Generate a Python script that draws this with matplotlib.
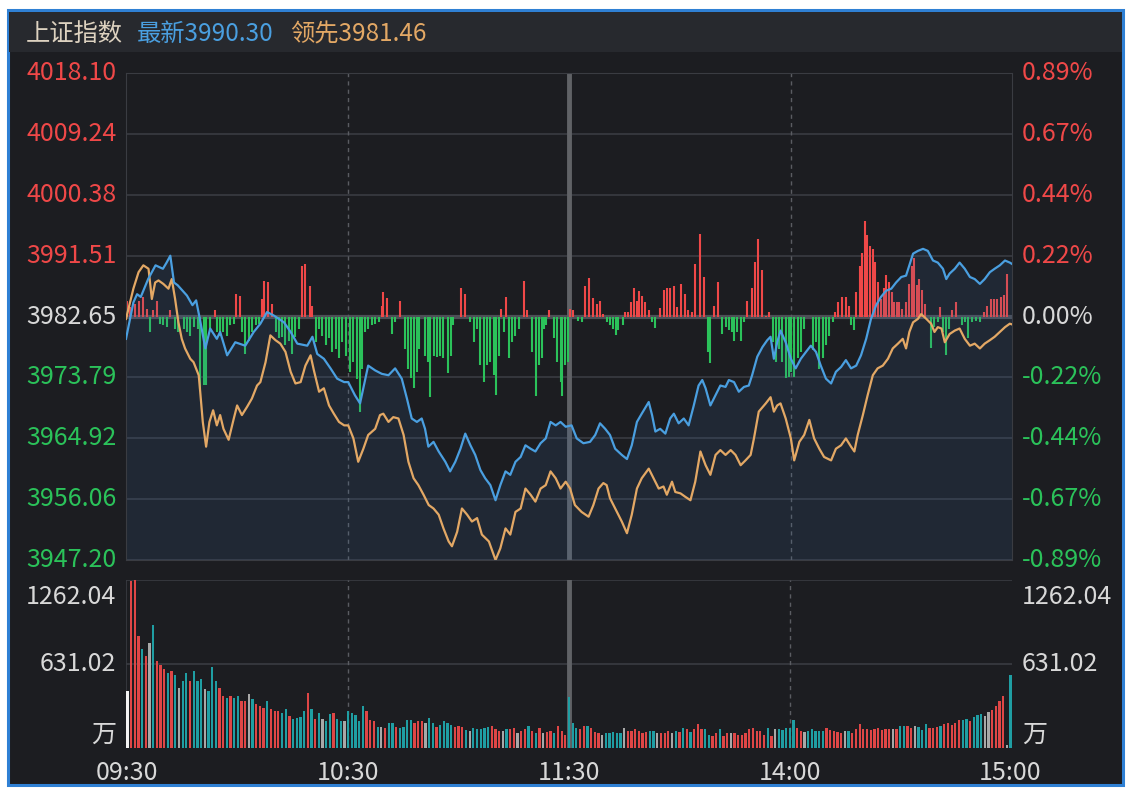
import numpy as np
import matplotlib.pyplot as plt
from matplotlib.patches import Rectangle
from matplotlib.transforms import blended_transform_factory, offset_copy

plt.rcParams['font.family'] = ['Noto Sans CJK SC', 'DejaVu Sans']

# ---- data (minutes from 09:30, lunch break removed) ----
pre_close = 3982.65
levels = [4018.10, 4009.24, 4000.38, 3991.51, 3982.65, 3973.79, 3964.92, 3956.06, 3947.20]
pct_labels = ['0.89%', '0.67%', '0.44%', '0.22%', '0.00%', '-0.22%', '-0.44%', '-0.67%', '-0.89%']
vol_levels = [1262.04, 631.02]
time_ticks = [0, 60, 120, 180, 240]
time_labels = ['09:30', '10:30', '11:30', '14:00', '15:00']

# index (blue)
blue_t = [0, 2, 3, 4, 6, 8, 10, 11, 12, 13, 14, 16.5, 18, 19, 20, 21.5, 22.8, 24.6, 25.5, 27.4,
          29.6, 32.3, 34.6, 36.4, 38.2, 40.0, 42.8, 44.6, 46.4, 49.1, 50.5, 51.8, 53.6, 55.4, 57.2, 59.1,
          60.2, 62.0, 63.4, 65.6, 67.5, 69.3, 71.1, 72.9, 74.7, 76.1, 77.4, 78.8, 80.1, 81.0, 81.9, 83.3,
          84.7, 86.5, 87.8, 89.2, 90.6, 91.9, 93.3, 94.6, 96.0, 97.3, 98.7, 100.1, 101.4, 102.8, 104.1,
          105.5, 106.9, 108.2, 109.6, 110.9, 112.3, 113.7, 115.0, 116.4, 117.7, 119.1,
          120.7, 122.1, 123.9, 125.7, 127.1, 128.4, 129.8, 131.1, 132.5, 134.3, 135.7, 137.0, 138.4,
          139.7, 141.6, 142.5, 143.4, 144.7, 146.1, 147.4, 148.4, 149.7, 151.1, 152.4, 153.8, 155.1,
          156.1, 157.0, 158.3, 159.7, 161.0, 162.4, 163.3, 164.7, 166.0, 167.4, 168.7, 169.6, 171.0,
          172.4, 173.7, 174.6, 175.5, 176.4, 177.3, 178.7, 180.1,
          181.4, 182.8, 184.2, 185.5, 186.9, 188.2, 189.6, 191.0, 192.3, 193.7, 195.0, 196.4, 197.8,
          199.1, 200.5, 201.8, 203.2, 204.5, 205.9, 207.3, 208.6, 210.0, 211.3, 212.2, 213.2, 214.5,
          215.9, 217.2, 218.6, 219.9, 221.3, 222.2, 223.1, 224.5, 225.8, 227.2, 228.6, 229.9, 231.3,
          232.6, 234.0, 235.3, 236.7, 238.1, 239.4, 240]
blue_v = [3979.4, 3984.7, 3985.9, 3985.5, 3988.1, 3990.1, 3989.6, 3990.5, 3991.5, 3987.6, 3987.2,
          3985.7, 3984.3, 3985.0, 3982.3, 3978.0, 3980.9, 3979.4, 3980.4, 3977.0, 3978.9, 3978.4,
          3980.4, 3981.6, 3983.3, 3982.8, 3981.8, 3980.4, 3978.7, 3978.4, 3979.7, 3977.2, 3976.5,
          3975.1, 3973.6, 3973.1,
          3973.1, 3971.2, 3970.0, 3975.5, 3974.8, 3974.3, 3974.1, 3975.1, 3973.6, 3970.7, 3967.8,
          3967.3, 3967.8, 3966.3, 3963.7, 3964.4, 3963.0, 3961.5, 3960.1, 3961.5, 3963.4, 3965.6,
          3963.9, 3962.5, 3960.3, 3959.1, 3958.1, 3955.9, 3958.1, 3960.1, 3959.6, 3961.5, 3962.2,
          3963.9, 3963.4, 3963.0, 3964.2, 3964.9, 3967.3, 3966.8, 3967.3, 3966.6,
          3966.8, 3964.9, 3964.2, 3964.4, 3965.4, 3967.1, 3966.3, 3965.4, 3963.4, 3962.5, 3961.9,
          3963.9, 3967.3, 3968.5, 3970.2, 3968.3, 3965.9, 3966.3, 3965.6, 3967.8, 3968.5, 3967.1,
          3967.8, 3966.8, 3969.7, 3972.6, 3973.4, 3972.2, 3969.7, 3971.2, 3972.6, 3972.4, 3973.4,
          3973.1, 3971.7, 3972.4, 3972.6, 3974.1, 3976.8, 3978.2, 3979.2, 3979.7, 3976.5, 3978.9,
          3980.6, 3978.9, 3976.5,
          3975.1, 3976.5, 3977.5, 3978.4, 3977.5, 3975.5, 3973.6, 3972.9, 3974.6, 3975.3, 3976.3,
          3975.1, 3975.5, 3977.0, 3979.4, 3982.3, 3984.3, 3985.5, 3986.4, 3986.7, 3987.6, 3988.4,
          3988.6, 3990.1, 3991.8, 3992.2, 3992.5, 3992.2, 3990.8, 3990.5, 3989.6, 3988.1, 3988.9,
          3989.6, 3990.5, 3989.6, 3988.4, 3988.1, 3987.4, 3988.1, 3989.1, 3989.6, 3990.1, 3990.8,
          3990.5, 3990.3]

# leading index (orange)
lead_t = [0, 2, 3.4, 4.7, 6.1, 7.0, 7.9, 8.8, 10.1, 11.5, 12.4, 13.3, 14.2, 15.1, 16.0, 17.4, 18.3,
          19.7, 20.1, 20.8, 21.7, 22.6, 23.6, 24.6, 25.5, 26.4, 27.8, 29.2, 30.1, 31.4, 32.8, 34.1,
          35.5, 36.4, 37.8, 39.1, 40.5, 41.8, 43.2, 44.6, 45.9, 47.3, 48.6, 50.0, 50.9, 52.3, 53.6,
          55.0, 56.3, 57.7, 59.1,
          60.2, 61.6, 62.9, 64.3, 65.6, 67.5, 68.8, 69.7, 71.1, 72.4, 73.8, 75.2, 76.5, 77.9, 79.2,
          80.6, 82.0, 83.3, 84.7, 86.0, 87.4, 88.3, 89.7, 91.0, 92.4, 93.7, 95.1, 96.4, 98.3, 100.1,
          101.4, 102.8, 104.1, 105.5, 106.9, 108.2, 109.6, 110.9, 112.3, 113.7, 115.0, 116.4, 117.7,
          119.1,
          120.3, 121.6, 123.4, 125.3, 126.6, 128.0, 129.3, 130.2, 131.1, 132.5, 134.3, 135.7, 137.0,
          138.4, 139.7, 141.6, 142.9, 144.3, 145.6, 146.5, 147.9, 148.8, 150.2, 151.5, 152.9, 154.2,
          155.6, 157.0, 158.3, 159.7, 161.0, 162.4, 163.8, 165.1, 166.5, 167.8, 169.2, 170.1, 171.4,
          173.3, 174.6, 175.5, 176.4, 177.3, 178.7, 180.1,
          181.0, 182.4, 183.7, 185.1, 186.4, 187.8, 189.1, 191.0, 192.3, 193.7, 195.0, 196.4, 197.3,
          198.2, 199.6, 200.9, 202.3, 203.6, 205.0, 206.4, 207.7, 209.1, 210.4, 211.3, 212.2, 213.2,
          214.5, 215.4, 216.8, 218.1, 219.0, 219.9, 220.9, 221.8, 223.1, 224.5, 225.8, 227.2, 228.6,
          229.9, 231.3, 232.6, 234.0, 235.3, 236.7, 238.1, 239.4, 240]
lead_v = [3982.3, 3986.7, 3989.1, 3990.1, 3989.6, 3985.2, 3987.6, 3987.9, 3987.4, 3986.7, 3988.1,
          3985.2, 3981.8, 3979.4, 3978.0, 3976.5, 3976.0, 3974.1, 3971.7, 3967.3, 3963.7, 3967.3,
          3969.0, 3966.8, 3968.3, 3966.3, 3964.7, 3967.8, 3969.7, 3968.3, 3969.5, 3970.7, 3972.6,
          3973.1, 3976.0, 3979.9, 3979.2, 3978.7, 3977.5, 3974.6, 3972.9, 3973.1, 3975.5, 3977.0,
          3974.8, 3971.7, 3972.2, 3969.7, 3968.5, 3967.3, 3966.8,
          3966.8, 3964.9, 3961.5, 3963.4, 3965.4, 3966.3, 3968.3, 3968.5, 3967.3, 3968.0, 3967.8,
          3965.4, 3961.5, 3959.1, 3958.1, 3956.7, 3955.2, 3954.7, 3953.8, 3951.8, 3949.9, 3949.2,
          3951.3, 3954.7, 3953.8, 3952.8, 3953.3, 3950.9, 3949.9, 3947.2, 3948.9, 3951.8, 3950.9,
          3954.2, 3954.7, 3957.6, 3956.7, 3955.7, 3957.6, 3958.1, 3960.1, 3959.1, 3957.6, 3958.6,
          3957.6, 3955.2, 3954.2, 3953.5, 3955.2, 3957.6, 3958.4, 3958.1, 3956.2, 3954.7, 3952.8,
          3951.1, 3953.8, 3957.6, 3959.1, 3960.5, 3959.1, 3957.6, 3957.9, 3956.7, 3958.6, 3957.1,
          3956.9, 3956.4, 3955.9, 3958.6, 3963.0, 3961.0, 3959.6, 3962.5, 3963.2, 3962.5, 3963.2,
          3962.5, 3961.0, 3961.7, 3962.5, 3964.9, 3968.8, 3970.0, 3970.9, 3968.8, 3969.7, 3970.0,
          3967.8, 3964.9,
          3961.7, 3964.4, 3965.4, 3967.6, 3964.9, 3963.4, 3962.2, 3961.7, 3963.4, 3963.9, 3964.9,
          3963.7, 3963.0, 3965.4, 3968.3, 3971.2, 3974.1, 3975.1, 3975.5, 3976.5, 3978.0, 3978.7,
          3979.4, 3978.0, 3980.4, 3981.8, 3982.3, 3983.0, 3982.3, 3981.6, 3980.4, 3981.1, 3980.9,
          3978.9, 3980.1, 3980.6, 3980.9, 3979.4, 3978.4, 3978.7, 3978.0, 3978.7, 3979.2, 3979.7,
          3980.4, 3981.1, 3981.6, 3981.5]

# red / green bars around the zero line (in index points)
bar_t = [0.4, 1.1, 2.4, 3.6, 4.7, 5.6, 6.5, 7.4, 8.5, 9.2, 10.1, 11.1, 12.0, 13.3, 14.2, 15.6, 16.5,
         17.4, 18.3, 19.4, 20.1, 21.0, 21.7, 22.8, 24.0, 24.6, 25.5, 26.4, 27.4, 28.3, 29.2, 29.8,
         30.8, 31.4, 32.3, 33.2, 34.1, 35.1, 36.0, 36.9, 37.5, 38.4, 39.6, 40.5, 41.4, 42.3, 43.2,
         44.1, 45.0, 45.9, 46.8, 47.7, 48.6, 49.8, 50.5, 51.4, 52.3, 53.2, 54.1, 55.0, 55.9, 56.8,
         57.7, 58.6, 59.5,
         60.7, 61.6, 62.5, 63.4, 64.0, 64.7, 65.6, 66.6, 67.5, 68.4, 69.3, 69.7, 70.8, 72.0, 72.9,
         74.3, 75.6, 76.3, 77.2, 77.9, 78.8, 79.4, 81.0, 81.9, 82.4, 83.3, 84.2, 85.1, 86.0, 87.2,
         88.1, 88.7, 90.8, 91.9, 93.3, 94.2, 95.1, 96.0, 96.9, 97.8, 98.7, 99.6, 100.2, 101.0, 101.7,
         102.3, 102.8, 103.7, 104.6, 105.5, 106.4, 107.8, 108.7, 110.0, 111.0, 111.8, 112.6, 113.2,
         113.8, 114.7, 115.9, 116.8, 117.7, 118.2, 118.9, 119.8,
         120.3, 121.2, 122.5, 123.4, 124.3, 125.4, 126.6, 127.5, 128.4, 129.3, 130.2, 131.1, 132.0,
         132.7, 133.4, 134.5, 135.2, 136.1, 136.8, 137.5, 138.4, 139.0, 139.9, 140.7, 141.6, 142.5,
         143.4, 144.7, 145.6, 146.5, 147.3, 148.4, 149.3, 150.4, 151.5, 152.2, 153.2, 154.2, 155.6,
         156.5, 157.7, 158.3, 159.2, 160.4, 161.5, 162.4, 163.3, 164.2, 164.8, 165.6, 166.5, 167.4,
         168.3, 169.5, 170.5, 171.3, 172.4, 173.3, 174.3, 175.3, 176.0, 176.9, 177.8, 178.7, 179.6,
         180.1, 181.0, 181.9, 182.8, 183.7, 186.0, 186.9, 187.8, 188.7, 189.6, 190.5, 191.4, 192.1,
         193.0, 193.9, 194.9, 195.8, 196.4, 197.3, 197.8, 198.7, 199.4, 200.1, 200.8, 201.6, 202.3,
         203.0, 203.7, 204.5, 205.2, 205.9, 206.6, 207.4, 208.1, 208.8, 209.5, 210.3, 211.3, 212.0,
         212.8, 213.5, 214.2, 214.9, 215.7, 216.4, 218.1, 219.0, 219.9, 220.5, 221.2, 222.0, 222.8,
         223.8, 224.9, 226.5, 227.4, 228.1, 229.2, 230.3, 231.2, 232.5, 233.3, 234.2, 235.1, 236.0,
         236.9, 237.8, 238.7]
bar_v = [2.3, 1.4, 1.8, 2.3, 2.8, 1.1, -2.3, 0.9, 2.3, -1.1, -1.3, -1.5, 0.9, -1.8, -2.3, -1.8, -2.3,
         -2.8, -1.5, -1.8, -10.5, -10.0, -10.0, -1.8, 1.0, -2.3, -2.8, -2.3, -2.8, -1.3, -1.1, 3.3,
         3.0, -2.3, -5.4, -3.5, -2.3, -1.3, -1.1, 2.6, 5.2, 5.0, 1.8, -2.3, -3.2, -3.0, -4.2,
         -3.5, -5.4, -3.0, -1.8, 7.4, 7.6, 4.5, 1.6, -3.7, -1.8, -2.8, -4.2, -3.2, -5.2, -4.7,
         -6.1, -3.7, -5.7,
         -8.1, -6.6, -9.1, -13.9, -7.6, -2.3, -1.8, -1.3, -1.1, -0.8, 1.6, 3.5, 2.7, -2.5, -0.8,
         2.3, -4.7, -7.6, -9.0, -10.4, -8.1, -4.7, -5.7, -6.6, -11.7, -5.7, -5.9, -5.7, -6.1, -8.2,
         -5.7, -1.3, 4.1, 3.3, -0.8, -3.7, -1.8, -7.1, -9.5, -7.1, -6.6, -8.5, -11.4, -5.7, 1.1,
         -2.3, 2.8, -6.1, -3.7, -2.8, -1.8, 5.2, 0.9, -5.2, -11.6, -7.1, -6.1, -1.8,
         -1.3, 0.9, -3.2, -6.6, -9.5, -11.6, -7.1, -6.6,
         1.1, 1.0, -0.6, -0.8, 4.5, 5.6, 2.7, 1.8, 2.3, 0.4, -0.8, -1.3, -1.8,
         -2.7, -2.0, -1.3, 0.6, 0.7, 2.1, 4.1, 2.3, 3.7, 3.0, 2.1, 0.9, -0.8,
         -1.7, 1.2, 3.8, 4.1, 4.2, 4.4, 1.4, 4.7, 3.3, 1.0, 0.7, 7.6, 12.0,
         5.7, -5.2, -6.8, 1.6, 5.0, -2.5, -1.5, -2.0, -2.3, -3.5, -2.3, -3.5, -0.8,
         2.3, 4.2, 7.9, 11.3, 6.7, 0.1, 0.6, -3.7, -6.6, -4.7, -6.6, -9.0, -8.8,
         -8.1, -8.8, -6.1, -5.2, -1.8, -4.9, -3.7, -7.6, -6.1, -4.2, -2.8, -0.8, 0.6,
         2.1, 2.8, 2.8, 1.6, -1.3, -2.0, 3.5, 7.4, 9.3, 13.9, 11.8, 10.3, 9.8,
         7.9, 5.0, 2.6, 4.1, 6.1, 5.0, 3.5, 2.1, 2.1, 2.1, 1.1, 2.1, 4.8,
         7.3, 8.5, 4.6, 5.5, 3.8, 1.8, -4.6, -1.6, -0.8, 1.4, -2.3, -5.6, -1.8,
         0.9, 2.1, -1.3, -0.8, -3.2, -0.8, -0.6, -0.8, 0.6, 1.6, 2.6, 2.6, 2.6,
         2.8, 3.1, 6.2]

# volume per minute (万) and bar colour code: r up, t down, g flat, w auction
vol = [427, 1253, 1262, 840, 740, 690, 790, 927, 652, 627, 590, 565, 577, 552, 452, 502, 565, 502,
       577, 502, 515, 440, 427, 607, 502, 452, 390, 377, 390, 377, 390, 352, 352, 402, 365, 332,
       315, 302, 352, 290, 277, 277, 265, 290, 240, 215, 227, 232, 277, 415, 290, 215, 265, 215,
       202, 252, 265, 215, 202, 202, 277,
       264, 251, 201, 319, 276, 214, 201, 156, 156, 151, 189, 189, 156, 151, 159, 214, 214, 189,
       201, 201, 189, 226, 189, 156, 176, 201, 189, 176, 159, 164, 159, 134, 126, 151, 144, 139,
       151, 159, 164, 139, 126, 126, 139, 144, 151, 109, 126, 139, 169, 126, 114, 151, 109, 119,
       126, 109, 169, 126, 100,
       384, 189, 151, 139, 164, 169, 151, 119, 109, 100, 109, 114, 119, 109, 114, 151, 126, 126,
       144, 126, 114, 119, 126, 126, 114, 109, 114, 126, 109, 126, 119,
       151, 139, 119, 139, 184, 144, 139, 100, 89, 109, 139, 89, 109, 109, 109, 94, 94, 114, 139,
       151, 126, 126, 100, 151, 89, 139, 139, 134, 151, 151, 214, 151, 126, 119, 126, 139, 126,
       126, 126, 151, 134, 126, 119, 114, 126, 126, 114, 144, 184, 144, 139, 134, 139, 151, 134,
       144, 144, 144, 144, 169, 169, 169, 151, 169, 159, 134, 184, 151, 151, 159, 169, 184, 189,
       176, 189, 209, 209, 219, 201, 234, 251, 259, 239, 269, 284, 319, 351, 394, 19,
       545]
vol_dir = ("wrrrtrgtrrrtrtgttrtttgtttrrtrt" "trr" "gtrrrtrr" "rttrt" "tttrtr" "tgt" "trttgt"
           "ttttrrrtgr" "ttrttttrrr" "gttrttttrr" "rtgtttttrr" "rgtrrgrrtr" "trgrrtrrr"
           "tttrrtrrrg" "tttttgrrrr" "rrttgrrrgt" "r"
           "trtrrrttrr" "trrgrrrrrr" "rrrtrgtttt" "trrgtttttr" "rrrrgtrrrr" "rrrrrrrgrt"
           "trrgtttrrr" "trrrrrttrt" "ttggrrrrg" "t")

W, H = 1132, 790
bg = '#1c1d21'
grid_c = '#3a3c42'
red = '#ef4848'
green = '#2bc25a'
light = '#d8d8d8'
fs = 18

fig = plt.figure(figsize=(W / 100, H / 100), dpi=100, facecolor='white')
fig.patches.append(Rectangle((8 / W, 5 / H), 1115 / W, 775 / H, transform=fig.transFigure,
                             facecolor=bg, edgecolor='#2f80d4', linewidth=2.2, zorder=-20))
fig.patches.append(Rectangle((9 / W, 1 - 52 / H), 1113 / W, 40 / H, transform=fig.transFigure,
                             facecolor='#27292e', edgecolor='none', zorder=-19))

fig.text(26 / W, 1 - 34 / H, '上证指数', color='#ddd2c0', fontsize=17.5, va='center')
fig.text(137 / W, 1 - 34 / H, '最新3990.30', color='#4a9fe0', fontsize=17.5, va='center')
fig.text(290 / W, 1 - 34 / H, '领先3981.46', color='#e3a865', fontsize=17.5, va='center')

# ---- price panel ----
ax = fig.add_axes([126 / W, 1 - 560 / H, 886 / W, 487 / H])
ax.set_facecolor('none')
ax.set_xlim(0, 240)
ax.set_ylim(levels[-1], levels[0])
for s in ax.spines.values():
    s.set_color(grid_c)
ax.set_xticks([])
ax.set_yticks([])
ax.hlines(levels, 0, 240, color=grid_c, lw=1.2, zorder=1)
ax.hlines(pre_close, 0, 240, color='#4d4f56', lw=3, zorder=1)
for t in (60, 180):
    ax.axvline(t, color='#5a5c62', lw=1, ls=(0, (3, 3)), zorder=1)
ax.axvline(120, color='#606266', lw=3.5, zorder=1)

bar_t = np.array(bar_t)
bar_v = np.array(bar_v)
up = bar_v > 0
ax.vlines(bar_t[up], pre_close, pre_close + bar_v[up], color=red, lw=1.5, zorder=2)
ax.vlines(bar_t[~up], pre_close, pre_close + bar_v[~up], color=green, lw=1.5, zorder=2)

ax.fill_between(blue_t, blue_v, levels[-1], color='#3a6ea8', alpha=0.14, lw=0, zorder=2)
ax.plot(lead_t, lead_v, color='#e3a865', lw=1.6, zorder=3)
ax.plot(blue_t, blue_v, color='#4a9fe0', lw=1.6, zorder=4)

tr = blended_transform_factory(ax.transAxes, ax.transData)
for lvl, pl in zip(levels, pct_labels):
    c = red if lvl > pre_close + 0.01 else (green if lvl < pre_close - 0.01 else light)
    ax.text(-0.011, lvl, f'{lvl:.2f}', transform=tr, ha='right', va='center', color=c, fontsize=fs)
    ax.text(1.011, lvl, pl, transform=tr, ha='left', va='center', color=c, fontsize=fs)

# ---- volume panel ----
vax = fig.add_axes([126 / W, 1 - 748 / H, 886 / W, 168 / H])
vax.set_facecolor('none')
vax.set_xlim(-0.4, 240.4)
vax.set_ylim(0, vol_levels[0])
for s in vax.spines.values():
    s.set_visible(False)
vax.set_xticks([])
vax.set_yticks([])
vax.axhline(vol_levels[0], color=grid_c, lw=1.2)
vax.axhline(vol_levels[1], color=grid_c, lw=1.2)
vax.axvline(-0.4, color=grid_c, lw=1.2)
for t in (60, 180):
    vax.axvline(t, color='#5a5c62', lw=1, ls=(0, (3, 3)))
vax.axvline(120, color='#606266', lw=3.5)

cmap = {'r': '#df4646', 't': '#1f9ea3', 'g': '#a8a8a8', 'w': '#f2f2f2'}
vax.bar(np.arange(len(vol)), vol, width=0.62, color=[cmap[c] for c in vol_dir], lw=0, zorder=2)

vtr = blended_transform_factory(vax.transAxes, vax.transData)
vtr_top = offset_copy(vtr, fig=fig, y=-17, units='dots')
vtr_bot = offset_copy(vtr, fig=fig, y=13, units='dots')
for x, ha in ((-0.011, 'right'), (1.011, 'left')):
    vax.text(x, vol_levels[0], f'{vol_levels[0]:.2f}', transform=vtr_top, ha=ha, va='center',
             color=light, fontsize=fs)
    vax.text(x, vol_levels[1], f'{vol_levels[1]:.2f}', transform=vtr, ha=ha, va='center',
             color=light, fontsize=fs)
    vax.text(x, 0, '万', transform=vtr_bot, ha=ha, va='center', color=light, fontsize=fs)

ttr = blended_transform_factory(vax.transData, vax.transAxes)
for t, lab in zip(time_ticks, time_labels):
    vax.text(t, -0.15, lab, transform=ttr, ha='center', va='center', color=light, fontsize=fs)

fig.savefig('out.png', dpi=100, facecolor=fig.get_facecolor())
